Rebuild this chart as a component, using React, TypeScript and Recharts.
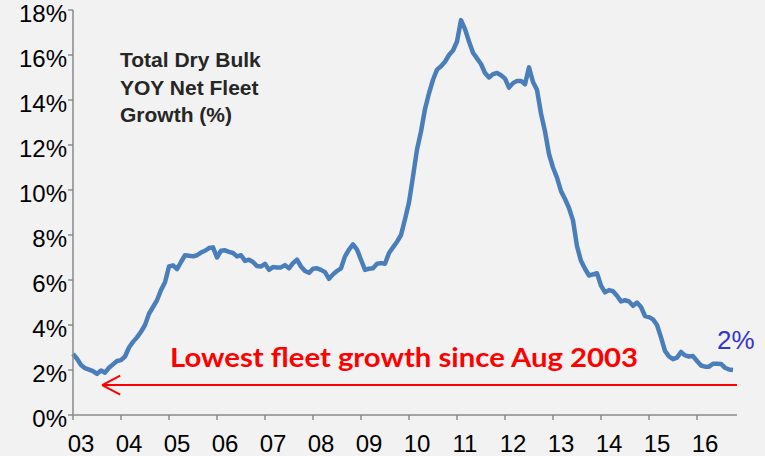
import React from 'react';
import { LineChart, Line, XAxis, YAxis, ReferenceLine } from 'recharts';

// Year tick labels (one tick every 12 months, starting Jan 2003)
const yearLabels = ['03', '04', '05', '06', '07', '08', '09', '10', '11', '12', '13', '14', '15', '16'];
const yTicks = [0, 2, 4, 6, 8, 10, 12, 14, 16, 18];

// Total Dry Bulk YOY net fleet growth (%), monthly from Jan 2003
const growth = [
  2.72, 2.5, 2.22, 2.08, 2.02, 1.95, 1.83, 1.98, 1.88, 2.1,
  2.25, 2.4, 2.44, 2.6, 3.0, 3.25, 3.45, 3.7, 4.0, 4.5,
  4.8, 5.1, 5.55, 5.9, 6.6, 6.65, 6.48, 6.8, 7.1, 7.08,
  7.05, 7.1, 7.22, 7.3, 7.42, 7.45, 7.0, 7.3, 7.32, 7.25,
  7.2, 7.05, 7.1, 6.85, 6.9, 6.8, 6.62, 6.6, 6.72, 6.45,
  6.58, 6.56, 6.56, 6.66, 6.52, 6.75, 6.9, 6.6, 6.4, 6.32,
  6.5, 6.52, 6.45, 6.35, 6.05, 6.25, 6.4, 6.52, 7.05, 7.35,
  7.58, 7.35, 6.9, 6.45, 6.5, 6.52, 6.72, 6.75, 6.72, 7.2,
  7.45, 7.7, 8.0, 8.7, 9.45, 10.6, 11.8, 12.6, 13.6, 14.3,
  14.9, 15.35, 15.5, 15.7, 16.0, 16.2, 16.6, 17.55, 17.15, 16.6,
  16.1, 15.85, 15.6, 15.2, 15.0, 15.15, 15.2, 15.1, 14.95, 14.55,
  14.75, 14.85, 14.85, 14.7, 15.45, 14.8, 14.45, 13.4, 12.6, 11.6,
  11.0, 10.55, 9.95, 9.6, 9.2, 8.65, 7.5, 6.85, 6.5, 6.2,
  6.25, 6.3, 5.75, 5.45, 5.55, 5.5, 5.3, 5.05, 5.1, 5.05,
  4.85, 5.0, 4.8, 4.4, 4.35, 4.25, 4.0, 3.45, 2.85, 2.6,
  2.48, 2.55, 2.8, 2.65, 2.6, 2.62, 2.4, 2.2, 2.15, 2.15,
  2.28, 2.28, 2.27, 2.1, 2.02, 2.0,
];

// Annotation arrow (month index, %)
const arrowLevel = 1.33;
const arrowTipMonth = 7.3;
const arrowEndMonth = 166;
const arrowHeadMonth = 11.8;
const arrowHeadSpread = 0.42;

const titleLines = ['Total Dry Bulk', 'YOY Net Fleet', 'Growth (%)'];
const noteText = 'Lowest fleet growth since Aug 2003';
const endLabel = '2%';

const data = growth.map((v, i) => ({ m: i, v }));
const xTicks = yearLabels.map((_, i) => i * 12);

const XTick = (props: any) => {
  const { x, y, payload } = props;
  const idx = Math.round(payload.value / 12);
  return (
    <text x={x + 8} y={y + 32} textAnchor="middle" fontFamily="Liberation Sans, Arial, sans-serif" fontSize={24} fill="#000">
      {yearLabels[idx]}
    </text>
  );
};

const YTick = (props: any) => {
  const { x, y, payload } = props;
  return (
    <text x={x} y={y + 12} textAnchor="end" fontFamily="Liberation Sans, Arial, sans-serif" fontSize={24} fill="#000">
      {payload.value + '%'}
    </text>
  );
};

export default function App() {
  return (
    <div style={{ position: 'absolute', left: 0, top: 0, width: 765, height: 456, background: '#F2F2F2' }}>
      <LineChart width={765} height={456} data={data} margin={{ top: 10, right: 28, bottom: 0, left: 0 }}>
        <XAxis
          dataKey="m"
          type="number"
          domain={[0, 166]}
          ticks={xTicks}
          tick={<XTick />}
          tickSize={5}
          tickMargin={0}
          height={41}
          stroke="#8A8A8A"
          strokeWidth={1.5}
          interval={0}
        />
        <YAxis
          type="number"
          domain={[0, 18]}
          ticks={yTicks}
          tick={<YTick />}
          tickSize={5}
          tickMargin={1}
          width={73}
          stroke="#8A8A8A"
          strokeWidth={1.5}
          interval={0}
        />
        <ReferenceLine
          segment={[{ x: arrowTipMonth, y: arrowLevel }, { x: arrowEndMonth, y: arrowLevel }]}
          stroke="#FF0000"
          strokeWidth={2}
          ifOverflow="visible"
        />
        <ReferenceLine
          segment={[{ x: arrowTipMonth, y: arrowLevel }, { x: arrowHeadMonth, y: arrowLevel + arrowHeadSpread }]}
          stroke="#FF0000"
          strokeWidth={2}
          ifOverflow="visible"
        />
        <ReferenceLine
          segment={[{ x: arrowTipMonth, y: arrowLevel }, { x: arrowHeadMonth, y: arrowLevel - arrowHeadSpread }]}
          stroke="#FF0000"
          strokeWidth={2}
          ifOverflow="visible"
        />
        <Line
          type="linear"
          dataKey="v"
          stroke="#4A7EBB"
          strokeWidth={4.5}
          dot={false}
          isAnimationActive={false}
          strokeLinejoin="round"
        />
      </LineChart>
      <svg width={765} height={456} style={{ position: 'absolute', left: 0, top: 0, pointerEvents: 'none' }}>
        {titleLines.map((t, i) => (
          <text key={t} x={120} y={67 + i * 27.5} fontFamily="Liberation Sans, Arial, sans-serif" fontWeight="bold" fontSize={21} fill="#262626">
            {t}
          </text>
        ))}
        <text x={170} y={367} fontFamily="Lato, 'Open Sans', sans-serif" fontWeight="bold" fontSize={27} fill="#FF0000" textLength={468} lengthAdjust="spacingAndGlyphs">
          {noteText}
        </text>
        <text x={717} y={349} fontFamily="Liberation Sans, Arial, sans-serif" fontSize={26} fill="#3535C8">
          {endLabel}
        </text>
      </svg>
    </div>
  );
}
